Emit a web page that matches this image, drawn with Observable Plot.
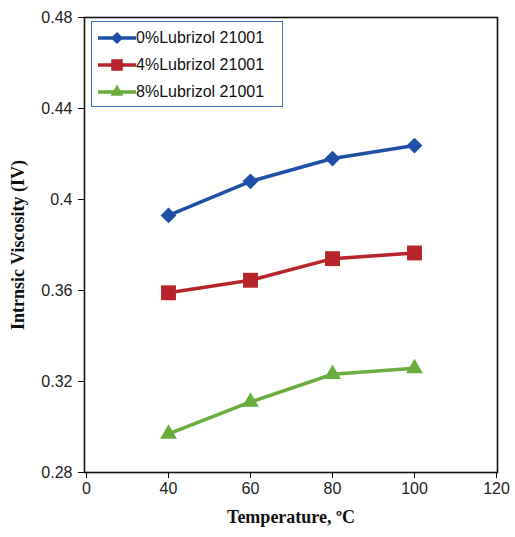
<!DOCTYPE html>
<html>
<head>
<meta charset="utf-8">
<script src="https://cdn.jsdelivr.net/npm/d3@7"></script>
<script src="https://cdn.jsdelivr.net/npm/@observablehq/plot@0.6"></script>
<style>
  html, body { margin: 0; padding: 0; background: #fff; }
  #wrap { position: relative; width: 515px; height: 537px; }
  #wrap > svg { position: absolute; left: 0; top: 0; }
  g[aria-label="x-axis label"] text, g[aria-label="y-axis label"] text {
    font: bold 18px "Liberation Serif", "Times New Roman", serif; fill: #111;
  }
  g[aria-label="x-axis tick label"] text, g[aria-label="y-axis tick label"] text {
    font-size: 16px; fill: #222;
  }
  #legend {
    position: absolute; left: 91px; top: 21px; width: 192px; height: 86px;
    border: 1.5px solid #3f6fc4; background: #fff; box-sizing: border-box;
    font: 16px "Liberation Sans", Arial, sans-serif; color: #111;
    padding-top: 2px;
  }
  #legend .row { display: flex; align-items: center; height: 27px; }
  #legend .row svg { position: static; margin-left: 4px; flex: none; }
</style>
</head>
<body>
<div id="wrap"></div>
<script>
// ---- data ----
const xLabels = ["0", "40", "60", "80", "100", "120"];
const temps = ["40", "60", "80", "100"];
const seriesNames = ["0%Lubrizol 21001", "4%Lubrizol 21001", "8%Lubrizol 21001"];
const iv0 = [0.393, 0.408, 0.418, 0.4237];
const iv4 = [0.359, 0.3645, 0.374, 0.3765];
const iv8 = [0.297, 0.311, 0.3232, 0.3258];
const yTicks = [0.28, 0.32, 0.36, 0.40, 0.44, 0.48];
const colors = ["#1f4fa6", "#b8242b", "#6aac3e"];

// square-proportioned diamond (Excel style)
const wideDiamond = {
  draw(ctx, size) {
    const r = Math.sqrt(size / 2);
    ctx.moveTo(0, -r); ctx.lineTo(r, 0); ctx.lineTo(0, r); ctx.lineTo(-r, 0); ctx.closePath();
  }
};
const symbols = [wideDiamond, d3.symbolSquare, d3.symbolTriangle];
const symbolR = [6.3, 8.4, 6.2];

const seriesValues = [iv0, iv4, iv8];
const rows = [];
seriesNames.forEach((s, i) => temps.forEach((t, j) => rows.push({series: s, temp: t, iv: seriesValues[i][j]})));

const dotMarks = seriesNames.map((s, i) =>
  Plot.dot(rows.filter(d => d.series === s), {
    x: "temp", y: "iv", symbol: symbols[i], fill: colors[i], r: symbolR[i], stroke: "none"
  })
);

const chart = Plot.plot({
  width: 515, height: 537,
  marginLeft: 84, marginRight: 18, marginTop: 17, marginBottom: 65,
  style: { fontFamily: "'Liberation Sans', Arial, sans-serif", background: "#fff" },
  x: { type: "point", domain: xLabels, padding: 0 },
  y: { domain: [0.28, 0.48] },
  marks: [
    Plot.axisX({ tickSize: 6, tickPadding: 4, label: "Temperature, ºC", labelAnchor: "center", labelOffset: 50 }),
    Plot.axisY({ ticks: yTicks, tickFormat: d3.format("~g"), tickSize: 6, tickPadding: 6,
      label: "Intrnsic Viscosity (IV)", labelAnchor: "center", labelArrow: "none", labelOffset: 73 }),
    Plot.frame({ stroke: "#111", strokeWidth: 1.6 }),
    Plot.line(rows, { x: "temp", y: "iv", z: "series", stroke: "series", strokeWidth: 3.5 }),
    ...dotMarks
  ],
  color: { domain: seriesNames, range: colors }
});
document.getElementById("wrap").appendChild(chart);

// legend
const legend = document.createElement("div");
legend.id = "legend";
seriesNames.forEach((s, i) => {
  const row = document.createElement("div");
  row.className = "row";
  const sym = d3.create("svg").attr("width", 40).attr("height", 20);
  sym.append("line").attr("x1", 2).attr("x2", 40).attr("y1", 10).attr("y2", 10)
    .attr("stroke", colors[i]).attr("stroke-width", 3.5);
  sym.append("path").attr("transform", "translate(21,10)")
    .attr("d", d3.symbol(symbols[i], Math.PI * symbolR[i] * symbolR[i] * 0.6)())
    .attr("fill", colors[i]);
  row.appendChild(sym.node());
  const span = document.createElement("span");
  span.textContent = s;
  row.appendChild(span);
  legend.appendChild(row);
});
document.getElementById("wrap").appendChild(legend);
</script>
</body>
</html>
